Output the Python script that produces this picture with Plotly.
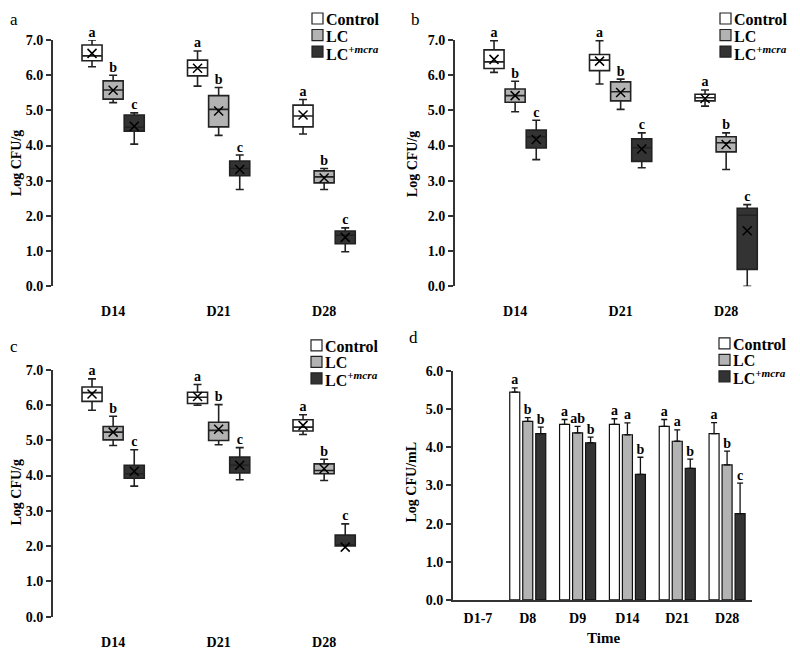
import plotly.graph_objects as go

# empirical page placement: x shifted by ~8px, y mapped as 0.976*y + 15
OX = 8
OY, SY = 15.0, 0.976
FW, FH = 784, 652
FONT = "Liberation Serif"

series_names = ["Control", "LC", "LC<sup>+<i>mcra</i></sup>"]
series_fill = ["#ffffff", "#b3b3b3", "#333333"]
box_days = ["D14", "D21", "D28"]

# ---------- panel a ----------
a_upper = [[7.00, 6.69, 5.31], [6.00, 5.65, 3.35], [4.93, 3.73, 1.66]]
a_q3 = [[6.86, 6.43, 5.15], [5.84, 5.42, 3.28], [4.87, 3.56, 1.57]]
a_median = [[6.55, 6.21, 4.84], [5.58, 5.03, 3.11], [4.52, 3.35, 1.45]]
a_q1 = [[6.41, 5.98, 4.53], [5.32, 4.53, 2.94], [4.41, 3.14, 1.21]]
a_lower = [[6.24, 5.69, 4.33], [5.22, 4.29, 2.75], [4.04, 2.75, 0.98]]
a_mean = [[6.62, 6.20, 4.87], [5.57, 4.98, 3.08], [4.55, 3.32, 1.39]]
a_letters = [["a", "a", "a"], ["b", "b", "b"], ["c", "c", "c"]]

# ---------- panel b ----------
b_upper = [[6.98, 6.98, 5.58], [5.83, 5.89, 4.36], [4.72, 4.36, 2.32]]
b_q3 = [[6.72, 6.59, 5.46], [5.61, 5.81, 4.25], [4.44, 4.19, 2.22]]
b_median = [[6.38, 6.43, 5.36], [5.42, 5.53, 4.08], [4.25, 3.94, 2.02]]
b_q1 = [[6.19, 6.13, 5.27], [5.23, 5.27, 3.82], [3.93, 3.55, 0.48]]
b_lower = [[6.08, 5.75, 5.12], [4.96, 5.03, 3.32], [3.60, 3.37, 0.00]]
b_mean = [[6.45, 6.40, 5.34], [5.42, 5.51, 4.03], [4.17, 3.90, 1.58]]
b_letters = [["a", "a", "a"], ["b", "b", "b"], ["c", "c", "c"]]

# ---------- panel c ----------
c_upper = [[6.74, 6.58, 5.72], [5.68, 6.01, 4.46], [4.73, 4.79, 2.63]]
c_q3 = [[6.51, 6.36, 5.58], [5.39, 5.51, 4.33], [4.29, 4.52, 2.31]]
c_median = [[6.35, 6.22, 5.37], [5.23, 5.28, 4.14], [4.05, 4.29, 2.02]]
c_q1 = [[6.10, 6.04, 5.26], [5.01, 4.99, 4.05], [3.92, 4.07, 2.00]]
c_lower = [[5.85, 5.99, 5.16], [4.85, 4.87, 3.86], [3.70, 3.88, 2.00]]
c_mean = [[6.31, 6.24, 5.42], [5.23, 5.31, 4.19], [4.12, 4.29, 1.97]]
c_letters = [["a", "a", "a"], ["b", "b", "b"], ["c", "c", "c"]]

# ---------- panel d ----------
d_days = ["D1-7", "D8", "D9", "D14", "D21", "D28"]
d_values = [
    [None, 5.45, 4.60, 4.60, 4.55, 4.36],
    [None, 4.68, 4.38, 4.33, 4.16, 3.54],
    [None, 4.36, 4.12, 3.29, 3.45, 2.26],
]
d_errors = [
    [None, 0.11, 0.13, 0.15, 0.18, 0.29],
    [None, 0.10, 0.17, 0.31, 0.30, 0.36],
    [None, 0.17, 0.15, 0.45, 0.24, 0.80],
]
d_letters = [
    [None, "a", "a", "a", "a", "a"],
    [None, "b", "ab", "a", "a", "b"],
    [None, "b", "b", "b", "b", "c"],
]

AX_COL = "#333333"


def px_x(x):
    return (x - OX) / FW


def px_y(y):
    return 1 - ((y - OY) / SY) / FH


fig = go.Figure()

box_offsets = [-0.2, 0.0, 0.2]
box_panels = [
    ("a", "x", "y", a_upper, a_q3, a_median, a_q1, a_lower, a_mean, a_letters),
    ("b", "x2", "y2", b_upper, b_q3, b_median, b_q1, b_lower, b_mean, b_letters),
    ("c", "x3", "y3", c_upper, c_q3, c_median, c_q1, c_lower, c_mean, c_letters),
]

for name, xa, ya, up, q3, med, q1, lo, mean, lets in box_panels:
    for k in range(3):
        xs = [i + box_offsets[k] for i in range(len(box_days))]
        fig.add_trace(go.Box(
            x=xs, q1=q1[k], median=med[k], q3=q3[k],
            lowerfence=lo[k], upperfence=up[k],
            width=0.19, whiskerwidth=0.4,
            fillcolor=series_fill[k],
            line=dict(color="#222222", width=1.6),
            boxpoints=False, showlegend=False, hoverinfo="skip",
            xaxis=xa, yaxis=ya,
        ))
        fig.add_trace(go.Scatter(
            x=xs, y=mean[k], mode="markers",
            marker=dict(symbol="x-thin", size=9,
                        line=dict(color="#000000", width=1.5)),
            showlegend=False, hoverinfo="skip", xaxis=xa, yaxis=ya,
        ))
        fig.add_trace(go.Scatter(
            x=xs, y=up[k], mode="text", text=lets[k],
            textposition="top center",
            textfont=dict(family=FONT, size=14, color="#000", weight="bold"),
            cliponaxis=False, showlegend=False, hoverinfo="skip",
            xaxis=xa, yaxis=ya,
        ))

# bars (panel d)
bar_offsets = [-0.261, 0.0, 0.261]
for k in range(3):
    fig.add_trace(go.Bar(
        x=list(range(len(d_days))), y=d_values[k],
        marker=dict(color=series_fill[k], line=dict(color="#111111", width=1.2)),
        error_y=dict(type="data", array=d_errors[k],
                     arrayminus=[0 if e is not None else None for e in d_errors[k]],
                     symmetric=False, thickness=1.3, width=3, color="#111111"),
        showlegend=False, hoverinfo="skip", xaxis="x4", yaxis="y4",
    ))
    idx = [i for i in range(len(d_days)) if d_letters[k][i]]
    fig.add_trace(go.Scatter(
        x=[i + bar_offsets[k] for i in idx],
        y=[d_values[k][i] + d_errors[k][i] for i in idx],
        mode="text", text=[d_letters[k][i] for i in idx], textposition="top center",
        textfont=dict(family=FONT, size=14, color="#000", weight="bold"),
        cliponaxis=False, showlegend=False, hoverinfo="skip",
        xaxis="x4", yaxis="y4",
    ))

yaxis_common = dict(
    showline=True, linewidth=2, linecolor=AX_COL,
    ticks="outside", ticklen=5, tickwidth=2, tickcolor=AX_COL,
    tickformat=".1f", dtick=1, showgrid=False, zeroline=False,
    tickfont=dict(family=FONT, size=14, color="#000", weight="bold"),
)
xbox_common = dict(
    range=[-0.57, 2.62], showline=False, showgrid=False, zeroline=False,
    ticks="", tickvals=[0, 1, 2], ticktext=box_days, ticklabelstandoff=15,
    tickfont=dict(family=FONT, size=14, color="#000", weight="bold"),
)

ax_w = 3.19 * 105.5
fig.update_layout(
    width=FW, height=FH, margin=dict(l=0, r=0, t=0, b=0),
    paper_bgcolor="white", plot_bgcolor="white",
    barmode="group", bargap=0.217, bargroupgap=0.23,
    xaxis=dict(domain=[px_x(53), px_x(53 + ax_w)], anchor="y", **xbox_common),
    yaxis=dict(domain=[px_y(286), px_y(40)], range=[0, 7], anchor="x", **yaxis_common),
    xaxis2=dict(domain=[px_x(455), min(1, px_x(455 + ax_w))], anchor="y2", **xbox_common),
    yaxis2=dict(domain=[px_y(286), px_y(40)], range=[0, 7], anchor="x2", **yaxis_common),
    xaxis3=dict(domain=[px_x(53), px_x(53 + ax_w)], anchor="y3", **xbox_common),
    yaxis3=dict(domain=[px_y(616), px_y(369.3)], range=[0, 7], anchor="x3", **yaxis_common),
    xaxis4=dict(domain=[px_x(453), px_x(752)], anchor="y4", range=[-0.5, 5.5],
                showline=True, linewidth=2, linecolor=AX_COL, ticks="",
                tickvals=list(range(len(d_days))), ticktext=d_days,
                ticklabelstandoff=4, showgrid=False, zeroline=False,
                tickfont=dict(family=FONT, size=14, color="#000", weight="bold")),
    yaxis4=dict(domain=[px_y(599.3), px_y(370.7)], range=[0, 6], anchor="x4", **yaxis_common),
)

annotations = []
shapes = []

# y titles
for txt, x, y in [("Log CFU/g", 16, 163), ("Log CFU/g", 412, 163),
                  ("Log CFU/g", 16, 492), ("Log CFU/mL", 411, 482)]:
    annotations.append(dict(text=txt, x=px_x(x), y=px_y(y), xref="paper", yref="paper",
                            textangle=-90, showarrow=False, xanchor="center", yanchor="middle",
                            font=dict(family=FONT, size=14, color="#000", weight="bold")))
annotations.append(dict(text="Time", x=px_x(603), y=px_y(637), xref="paper", yref="paper",
                        showarrow=False, xanchor="center", yanchor="middle",
                        font=dict(family=FONT, size=15, color="#000", weight="bold")))

# panel letters
for txt, x, y in [("a", 14, 19), ("b", 415, 19), ("c", 14, 346), ("d", 413, 337)]:
    annotations.append(dict(text=txt, x=px_x(x), y=px_y(y), xref="paper", yref="paper",
                            showarrow=False, xanchor="center", yanchor="middle",
                            font=dict(family=FONT, size=17, color="#000")))

# legends
legend_pos = [(312, [18.5, 35, 51.5]), (720, [18.5, 35, 51.5]),
              (311, [345, 361.5, 378]), (719, [343, 359.5, 376])]
for lx, rows in legend_pos:
    for k in range(3):
        ry = rows[k]
        shapes.append(dict(type="rect", xref="paper", yref="paper",
                           x0=px_x(lx), x1=px_x(lx + 11), y0=px_y(ry + 5.5), y1=px_y(ry - 5.5),
                           fillcolor=series_fill[k], line=dict(color="#222222", width=1.2)))
        annotations.append(dict(text=series_names[k], x=px_x(lx + 13), y=px_y(ry + 1),
                                xref="paper", yref="paper", showarrow=False,
                                xanchor="left", yanchor="middle", borderpad=0,
                                font=dict(family=FONT, size=16, color="#000", weight="bold")))

fig.update_layout(annotations=annotations, shapes=shapes)
fig.write_html("out.html")
